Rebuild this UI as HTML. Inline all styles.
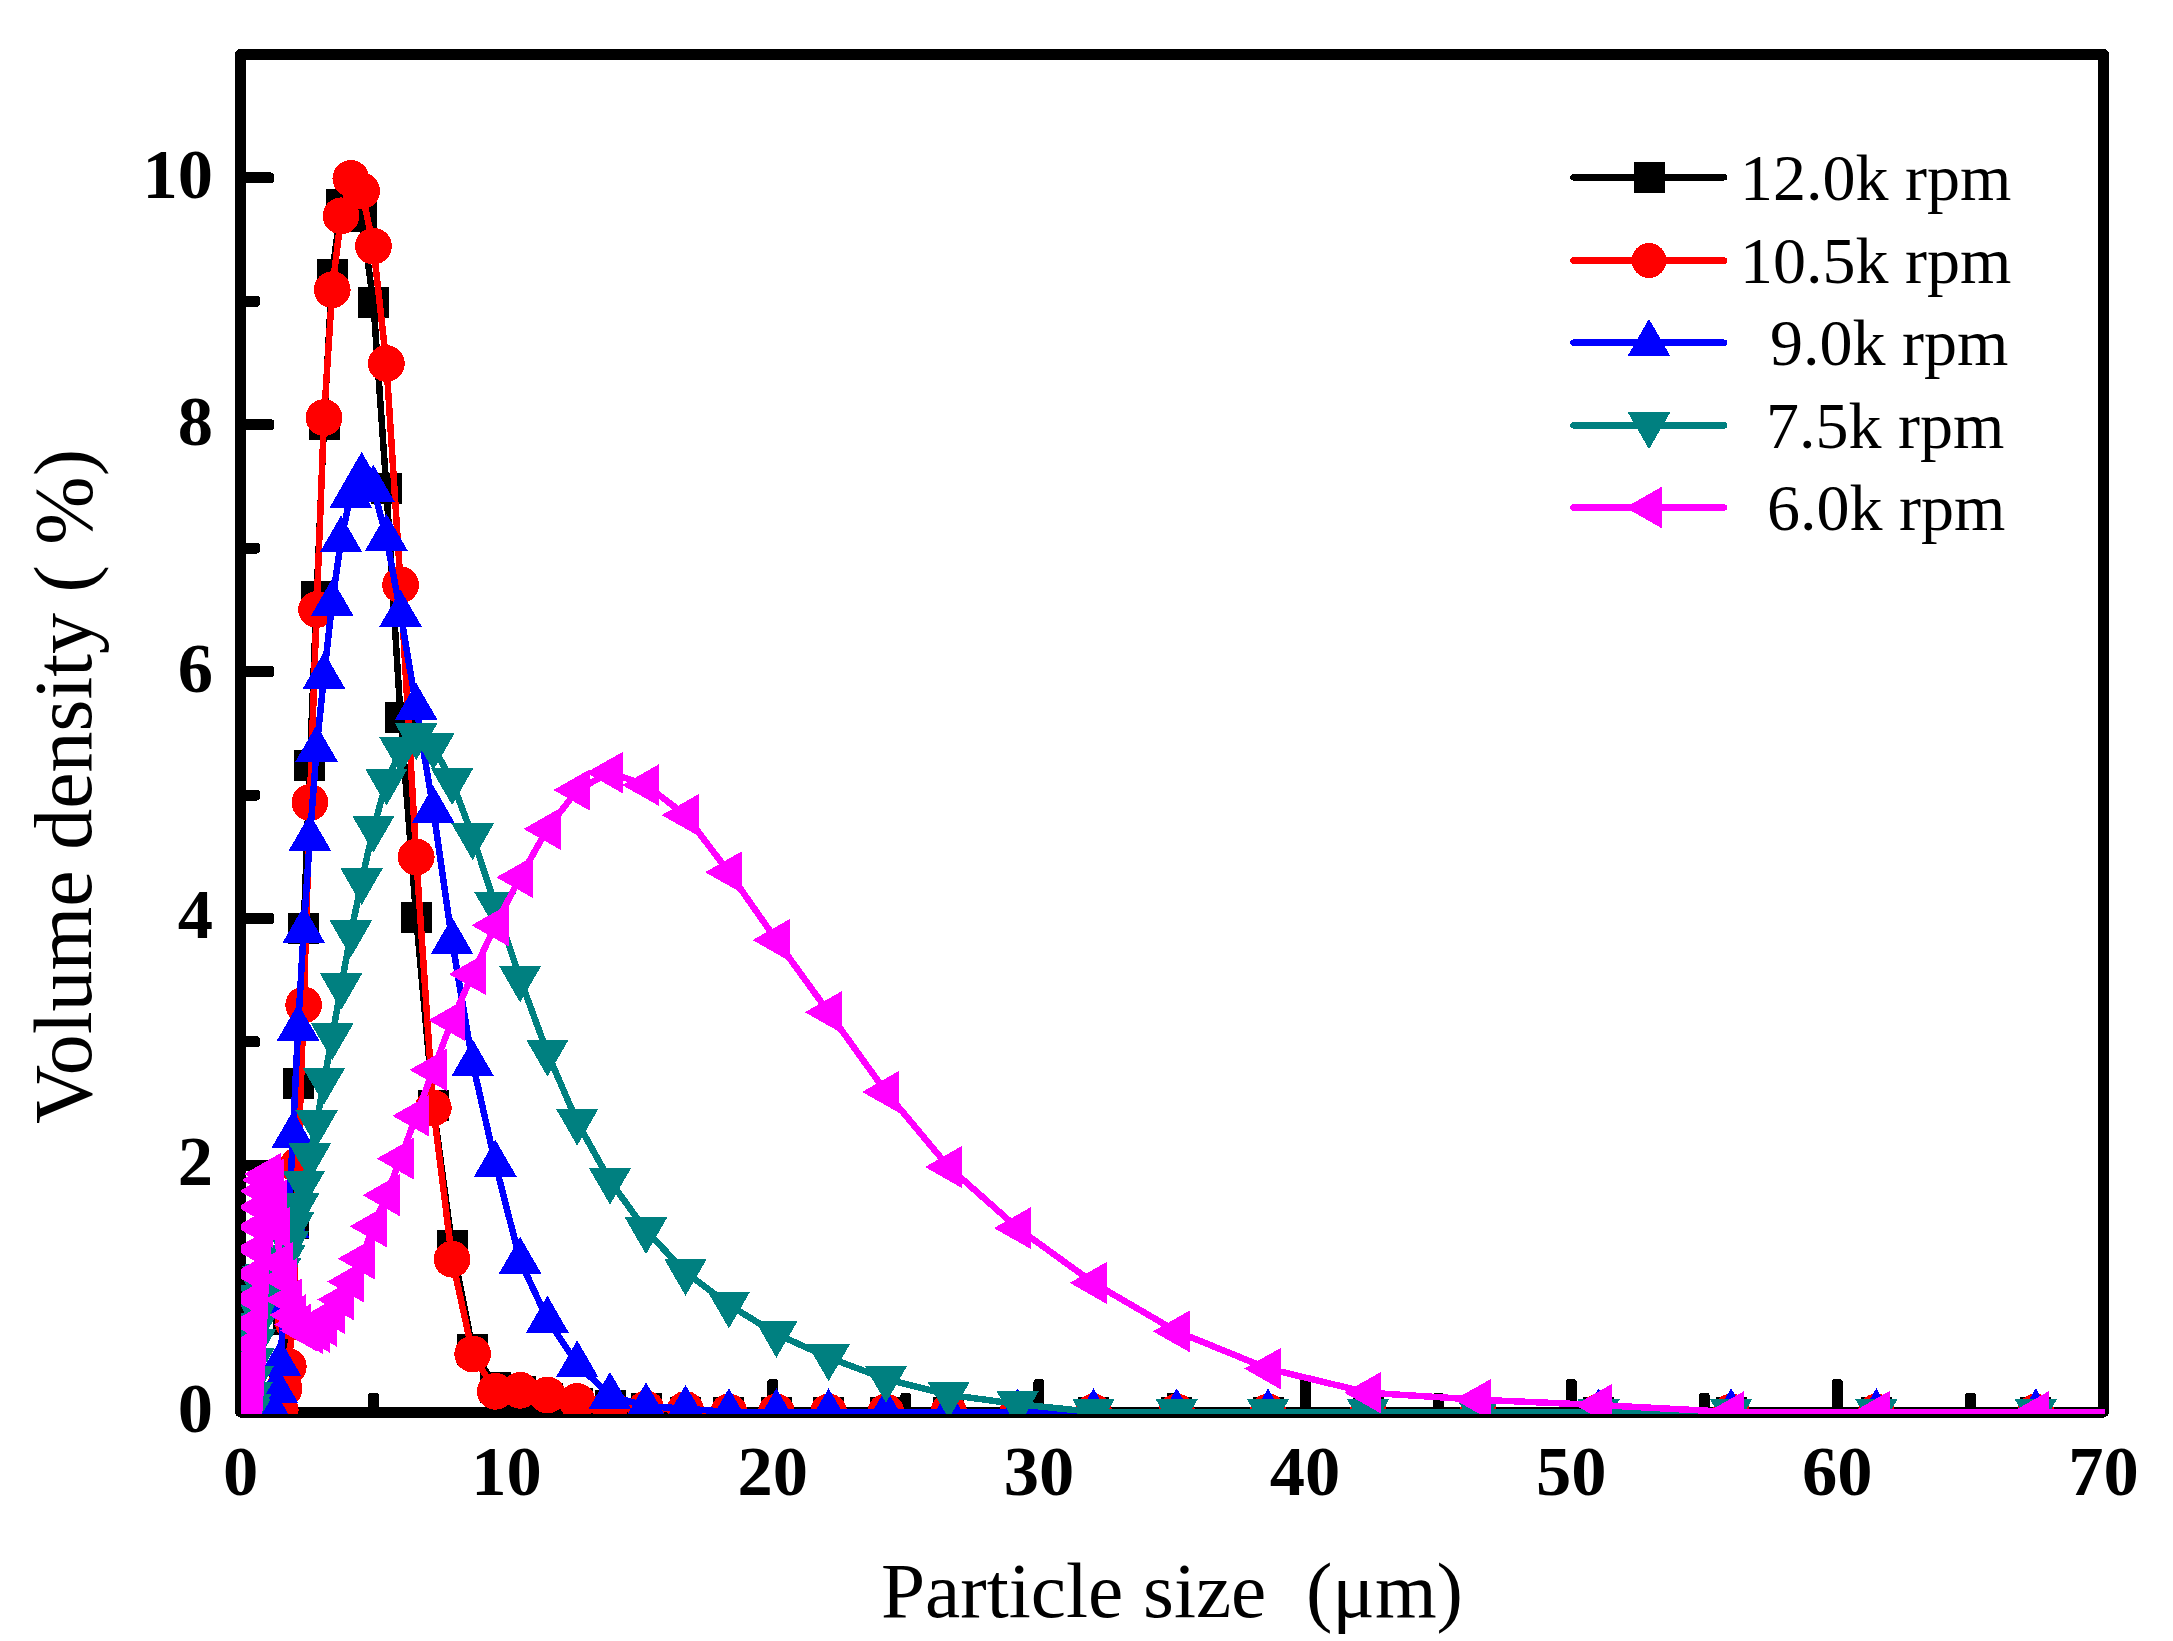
<!DOCTYPE html>
<html><head><meta charset="utf-8"><title>Particle size distribution</title>
<style>html,body{margin:0;padding:0;background:#fff}body{width:2173px;height:1641px;overflow:hidden}</style></head>
<body>
<svg width="2173" height="1641" viewBox="0 0 2173 1641" style="display:block">
<rect width="2173" height="1641" fill="#fff"/>
<defs><clipPath id="cp"><rect x="241" y="50" width="1864" height="1364"/></clipPath></defs>
<g shape-rendering="crispEdges">
<rect x="240.5" y="54.5" width="1863" height="1357.5" fill="none" stroke="#000" stroke-width="11" stroke-linejoin="round"/>
<rect x="240.0" y="1283.1" width="20.0" height="11.0" rx="3.5" ry="3.5" fill="#000"/>
<rect x="240.0" y="1159.7" width="34.2" height="11.0" rx="3.5" ry="3.5" fill="#000"/>
<rect x="240.0" y="1036.3" width="20.0" height="11.0" rx="3.5" ry="3.5" fill="#000"/>
<rect x="240.0" y="912.9" width="34.2" height="11.0" rx="3.5" ry="3.5" fill="#000"/>
<rect x="240.0" y="789.5" width="20.0" height="11.0" rx="3.5" ry="3.5" fill="#000"/>
<rect x="240.0" y="666.0" width="34.2" height="11.0" rx="3.5" ry="3.5" fill="#000"/>
<rect x="240.0" y="542.6" width="20.0" height="11.0" rx="3.5" ry="3.5" fill="#000"/>
<rect x="240.0" y="419.2" width="34.2" height="11.0" rx="3.5" ry="3.5" fill="#000"/>
<rect x="240.0" y="295.8" width="20.0" height="11.0" rx="3.5" ry="3.5" fill="#000"/>
<rect x="240.0" y="172.4" width="34.2" height="11.0" rx="3.5" ry="3.5" fill="#000"/>
<rect x="368.1" y="1392.7" width="11.0" height="19.3" rx="3.5" ry="3.5" fill="#000"/>
<rect x="501.1" y="1379.0" width="11.0" height="33.0" rx="3.5" ry="3.5" fill="#000"/>
<rect x="634.2" y="1392.7" width="11.0" height="19.3" rx="3.5" ry="3.5" fill="#000"/>
<rect x="767.3" y="1379.0" width="11.0" height="33.0" rx="3.5" ry="3.5" fill="#000"/>
<rect x="900.4" y="1392.7" width="11.0" height="19.3" rx="3.5" ry="3.5" fill="#000"/>
<rect x="1033.4" y="1379.0" width="11.0" height="33.0" rx="3.5" ry="3.5" fill="#000"/>
<rect x="1166.5" y="1392.7" width="11.0" height="19.3" rx="3.5" ry="3.5" fill="#000"/>
<rect x="1299.6" y="1379.0" width="11.0" height="33.0" rx="3.5" ry="3.5" fill="#000"/>
<rect x="1432.6" y="1392.7" width="11.0" height="19.3" rx="3.5" ry="3.5" fill="#000"/>
<rect x="1565.7" y="1379.0" width="11.0" height="33.0" rx="3.5" ry="3.5" fill="#000"/>
<rect x="1698.8" y="1392.7" width="11.0" height="19.3" rx="3.5" ry="3.5" fill="#000"/>
<rect x="1831.8" y="1379.0" width="11.0" height="33.0" rx="3.5" ry="3.5" fill="#000"/>
<rect x="1964.9" y="1392.7" width="11.0" height="19.3" rx="3.5" ry="3.5" fill="#000"/>
<g clip-path="url(#cp)">
<polyline points="2210.5,1412.0 2035.8,1412.0 1876.4,1412.0 1731.1,1412.0 1598.7,1412.0 1478.1,1412.0 1368.1,1412.0 1268.0,1412.0 1176.7,1412.0 1093.5,1412.0 1017.7,1412.0 948.7,1412.0 885.9,1412.0 828.6,1412.0 776.4,1412.0 728.9,1412.0 685.5,1412.0 646.0,1408.5 610.0,1405.8 577.2,1403.9 547.4,1398.4 520.1,1391.8 495.3,1387.3 472.7,1349.1 452.1,1245.5 433.3,1105.8 416.2,917.1 400.6,717.8 386.4,488.4 373.4,302.9 361.6,216.4 350.9,190.2 341.1,204.6 332.2,274.8 324.0,424.7 316.6,596.6 309.9,765.5 303.7,928.0 298.1,1083.0 293.0,1223.2 288.3,1319.4 284.1,1375.0 280.2,1397.2 276.7,1407.1 273.5,1412.0 270.6,1412.0 267.9,1412.0 265.5,1412.0 263.2,1412.0 261.2,1412.0 259.4,1412.0 257.7,1412.0 256.2,1412.0 254.8,1412.0 253.5,1412.0 252.4,1412.0 251.3,1412.0 250.4,1412.0 249.5,1412.0 248.7,1412.0 248.0,1412.0 247.3,1412.0 246.7,1412.0 246.1,1412.0 245.6,1412.0 245.2,1412.0 244.8,1412.0 244.4,1412.0 244.0,1412.0 243.7,1412.0" fill="none" stroke="#000" stroke-width="6.5" stroke-linejoin="round"/>
<rect x="2020.3" y="1396.5" width="31" height="31" fill="#000"/>
<rect x="1860.9" y="1396.5" width="31" height="31" fill="#000"/>
<rect x="1715.6" y="1396.5" width="31" height="31" fill="#000"/>
<rect x="1583.2" y="1396.5" width="31" height="31" fill="#000"/>
<rect x="1462.6" y="1396.5" width="31" height="31" fill="#000"/>
<rect x="1352.6" y="1396.5" width="31" height="31" fill="#000"/>
<rect x="1252.5" y="1396.5" width="31" height="31" fill="#000"/>
<rect x="1161.2" y="1396.5" width="31" height="31" fill="#000"/>
<rect x="1078.0" y="1396.5" width="31" height="31" fill="#000"/>
<rect x="1002.2" y="1396.5" width="31" height="31" fill="#000"/>
<rect x="933.2" y="1396.5" width="31" height="31" fill="#000"/>
<rect x="870.4" y="1396.5" width="31" height="31" fill="#000"/>
<rect x="813.1" y="1396.5" width="31" height="31" fill="#000"/>
<rect x="760.9" y="1396.5" width="31" height="31" fill="#000"/>
<rect x="713.4" y="1396.5" width="31" height="31" fill="#000"/>
<rect x="670.0" y="1396.5" width="31" height="31" fill="#000"/>
<rect x="630.5" y="1393.0" width="31" height="31" fill="#000"/>
<rect x="594.5" y="1390.3" width="31" height="31" fill="#000"/>
<rect x="561.7" y="1388.4" width="31" height="31" fill="#000"/>
<rect x="531.9" y="1382.9" width="31" height="31" fill="#000"/>
<rect x="504.6" y="1376.3" width="31" height="31" fill="#000"/>
<rect x="479.8" y="1371.8" width="31" height="31" fill="#000"/>
<rect x="457.2" y="1333.6" width="31" height="31" fill="#000"/>
<rect x="436.6" y="1230.0" width="31" height="31" fill="#000"/>
<rect x="417.8" y="1090.3" width="31" height="31" fill="#000"/>
<rect x="400.7" y="901.6" width="31" height="31" fill="#000"/>
<rect x="385.1" y="702.3" width="31" height="31" fill="#000"/>
<rect x="370.9" y="472.9" width="31" height="31" fill="#000"/>
<rect x="357.9" y="287.4" width="31" height="31" fill="#000"/>
<rect x="346.1" y="200.9" width="31" height="31" fill="#000"/>
<rect x="335.4" y="174.7" width="31" height="31" fill="#000"/>
<rect x="325.6" y="189.1" width="31" height="31" fill="#000"/>
<rect x="316.7" y="259.3" width="31" height="31" fill="#000"/>
<rect x="308.5" y="409.2" width="31" height="31" fill="#000"/>
<rect x="301.1" y="581.1" width="31" height="31" fill="#000"/>
<rect x="294.4" y="750.0" width="31" height="31" fill="#000"/>
<rect x="288.2" y="912.5" width="31" height="31" fill="#000"/>
<rect x="282.6" y="1067.5" width="31" height="31" fill="#000"/>
<rect x="277.5" y="1207.7" width="31" height="31" fill="#000"/>
<rect x="272.8" y="1303.9" width="31" height="31" fill="#000"/>
<rect x="268.6" y="1359.5" width="31" height="31" fill="#000"/>
<rect x="264.7" y="1381.7" width="31" height="31" fill="#000"/>
<rect x="261.2" y="1391.6" width="31" height="31" fill="#000"/>
<rect x="258.0" y="1396.5" width="31" height="31" fill="#000"/>
<rect x="255.1" y="1396.5" width="31" height="31" fill="#000"/>
<rect x="252.4" y="1396.5" width="31" height="31" fill="#000"/>
<rect x="250.0" y="1396.5" width="31" height="31" fill="#000"/>
<rect x="247.7" y="1396.5" width="31" height="31" fill="#000"/>
<rect x="245.7" y="1396.5" width="31" height="31" fill="#000"/>
<rect x="243.9" y="1396.5" width="31" height="31" fill="#000"/>
<rect x="242.2" y="1396.5" width="31" height="31" fill="#000"/>
<rect x="240.7" y="1396.5" width="31" height="31" fill="#000"/>
<rect x="239.3" y="1396.5" width="31" height="31" fill="#000"/>
<rect x="238.0" y="1396.5" width="31" height="31" fill="#000"/>
<rect x="236.9" y="1396.5" width="31" height="31" fill="#000"/>
<rect x="235.8" y="1396.5" width="31" height="31" fill="#000"/>
<rect x="234.9" y="1396.5" width="31" height="31" fill="#000"/>
<rect x="234.0" y="1396.5" width="31" height="31" fill="#000"/>
<rect x="233.2" y="1396.5" width="31" height="31" fill="#000"/>
<rect x="232.5" y="1396.5" width="31" height="31" fill="#000"/>
<rect x="231.8" y="1396.5" width="31" height="31" fill="#000"/>
<rect x="231.2" y="1396.5" width="31" height="31" fill="#000"/>
<rect x="230.6" y="1396.5" width="31" height="31" fill="#000"/>
<rect x="230.1" y="1396.5" width="31" height="31" fill="#000"/>
<rect x="229.7" y="1396.5" width="31" height="31" fill="#000"/>
<rect x="229.3" y="1396.5" width="31" height="31" fill="#000"/>
<rect x="228.9" y="1396.5" width="31" height="31" fill="#000"/>
<rect x="228.5" y="1396.5" width="31" height="31" fill="#000"/>
<rect x="228.2" y="1396.5" width="31" height="31" fill="#000"/>
<polyline points="2210.5,1412.0 2035.8,1412.0 1876.4,1412.0 1731.1,1412.0 1598.7,1412.0 1478.1,1412.0 1368.1,1412.0 1268.0,1412.0 1176.7,1412.0 1093.5,1412.0 1017.7,1412.0 948.7,1412.0 885.9,1412.0 828.6,1412.0 776.4,1412.0 728.9,1412.0 685.5,1409.5 646.0,1408.9 610.0,1407.1 577.2,1401.5 547.4,1395.0 520.1,1390.3 495.3,1391.3 472.7,1354.0 452.1,1259.2 433.3,1107.9 416.2,857.0 400.6,584.8 386.4,363.5 373.4,246.1 361.6,190.9 350.9,178.5 341.1,215.8 332.2,289.7 324.0,417.6 316.6,609.5 309.9,802.4 303.7,1005.0 298.1,1165.2 293.0,1321.9 288.3,1366.7 284.1,1388.6 280.2,1409.5 276.7,1412.0 273.5,1412.0 270.6,1412.0 267.9,1412.0 265.5,1412.0 263.2,1412.0 261.2,1412.0 259.4,1412.0 257.7,1412.0 256.2,1412.0 254.8,1412.0 253.5,1412.0 252.4,1412.0 251.3,1412.0 250.4,1412.0 249.5,1412.0 248.7,1412.0 248.0,1412.0 247.3,1412.0 246.7,1412.0 246.1,1412.0 245.6,1412.0 245.2,1412.0 244.8,1412.0 244.4,1412.0 244.0,1412.0 243.7,1412.0" fill="none" stroke="#f00" stroke-width="6.5" stroke-linejoin="round"/>
<circle cx="2035.8" cy="1412.0" r="18.4" fill="#f00"/>
<circle cx="1876.4" cy="1412.0" r="18.4" fill="#f00"/>
<circle cx="1731.1" cy="1412.0" r="18.4" fill="#f00"/>
<circle cx="1598.7" cy="1412.0" r="18.4" fill="#f00"/>
<circle cx="1478.1" cy="1412.0" r="18.4" fill="#f00"/>
<circle cx="1368.1" cy="1412.0" r="18.4" fill="#f00"/>
<circle cx="1268.0" cy="1412.0" r="18.4" fill="#f00"/>
<circle cx="1176.7" cy="1412.0" r="18.4" fill="#f00"/>
<circle cx="1093.5" cy="1412.0" r="18.4" fill="#f00"/>
<circle cx="1017.7" cy="1412.0" r="18.4" fill="#f00"/>
<circle cx="948.7" cy="1412.0" r="18.4" fill="#f00"/>
<circle cx="885.9" cy="1412.0" r="18.4" fill="#f00"/>
<circle cx="828.6" cy="1412.0" r="18.4" fill="#f00"/>
<circle cx="776.4" cy="1412.0" r="18.4" fill="#f00"/>
<circle cx="728.9" cy="1412.0" r="18.4" fill="#f00"/>
<circle cx="685.5" cy="1409.5" r="18.4" fill="#f00"/>
<circle cx="646.0" cy="1408.9" r="18.4" fill="#f00"/>
<circle cx="610.0" cy="1407.1" r="18.4" fill="#f00"/>
<circle cx="577.2" cy="1401.5" r="18.4" fill="#f00"/>
<circle cx="547.4" cy="1395.0" r="18.4" fill="#f00"/>
<circle cx="520.1" cy="1390.3" r="18.4" fill="#f00"/>
<circle cx="495.3" cy="1391.3" r="18.4" fill="#f00"/>
<circle cx="472.7" cy="1354.0" r="18.4" fill="#f00"/>
<circle cx="452.1" cy="1259.2" r="18.4" fill="#f00"/>
<circle cx="433.3" cy="1107.9" r="18.4" fill="#f00"/>
<circle cx="416.2" cy="857.0" r="18.4" fill="#f00"/>
<circle cx="400.6" cy="584.8" r="18.4" fill="#f00"/>
<circle cx="386.4" cy="363.5" r="18.4" fill="#f00"/>
<circle cx="373.4" cy="246.1" r="18.4" fill="#f00"/>
<circle cx="361.6" cy="190.9" r="18.4" fill="#f00"/>
<circle cx="350.9" cy="178.5" r="18.4" fill="#f00"/>
<circle cx="341.1" cy="215.8" r="18.4" fill="#f00"/>
<circle cx="332.2" cy="289.7" r="18.4" fill="#f00"/>
<circle cx="324.0" cy="417.6" r="18.4" fill="#f00"/>
<circle cx="316.6" cy="609.5" r="18.4" fill="#f00"/>
<circle cx="309.9" cy="802.4" r="18.4" fill="#f00"/>
<circle cx="303.7" cy="1005.0" r="18.4" fill="#f00"/>
<circle cx="298.1" cy="1165.2" r="18.4" fill="#f00"/>
<circle cx="293.0" cy="1321.9" r="18.4" fill="#f00"/>
<circle cx="288.3" cy="1366.7" r="18.4" fill="#f00"/>
<circle cx="284.1" cy="1388.6" r="18.4" fill="#f00"/>
<circle cx="280.2" cy="1409.5" r="18.4" fill="#f00"/>
<circle cx="276.7" cy="1412.0" r="18.4" fill="#f00"/>
<circle cx="273.5" cy="1412.0" r="18.4" fill="#f00"/>
<circle cx="270.6" cy="1412.0" r="18.4" fill="#f00"/>
<circle cx="267.9" cy="1412.0" r="18.4" fill="#f00"/>
<circle cx="265.5" cy="1412.0" r="18.4" fill="#f00"/>
<circle cx="263.2" cy="1412.0" r="18.4" fill="#f00"/>
<circle cx="261.2" cy="1412.0" r="18.4" fill="#f00"/>
<circle cx="259.4" cy="1412.0" r="18.4" fill="#f00"/>
<circle cx="257.7" cy="1412.0" r="18.4" fill="#f00"/>
<circle cx="256.2" cy="1412.0" r="18.4" fill="#f00"/>
<circle cx="254.8" cy="1412.0" r="18.4" fill="#f00"/>
<circle cx="253.5" cy="1412.0" r="18.4" fill="#f00"/>
<circle cx="252.4" cy="1412.0" r="18.4" fill="#f00"/>
<circle cx="251.3" cy="1412.0" r="18.4" fill="#f00"/>
<circle cx="250.4" cy="1412.0" r="18.4" fill="#f00"/>
<circle cx="249.5" cy="1412.0" r="18.4" fill="#f00"/>
<circle cx="248.7" cy="1412.0" r="18.4" fill="#f00"/>
<circle cx="248.0" cy="1412.0" r="18.4" fill="#f00"/>
<circle cx="247.3" cy="1412.0" r="18.4" fill="#f00"/>
<circle cx="246.7" cy="1412.0" r="18.4" fill="#f00"/>
<circle cx="246.1" cy="1412.0" r="18.4" fill="#f00"/>
<circle cx="245.6" cy="1412.0" r="18.4" fill="#f00"/>
<circle cx="245.2" cy="1412.0" r="18.4" fill="#f00"/>
<circle cx="244.8" cy="1412.0" r="18.4" fill="#f00"/>
<circle cx="244.4" cy="1412.0" r="18.4" fill="#f00"/>
<circle cx="244.0" cy="1412.0" r="18.4" fill="#f00"/>
<circle cx="243.7" cy="1412.0" r="18.4" fill="#f00"/>
<polyline points="2210.5,1412.0 2035.8,1412.0 1876.4,1412.0 1731.1,1412.0 1598.7,1412.0 1478.1,1412.0 1368.1,1412.0 1268.0,1412.0 1176.7,1412.0 1093.5,1412.0 1017.7,1412.0 948.7,1412.0 885.9,1412.0 828.6,1412.0 776.4,1412.0 728.9,1412.0 685.5,1408.6 646.0,1406.2 610.0,1395.7 577.2,1364.1 547.4,1319.3 520.1,1260.5 495.3,1163.4 472.7,1063.1 452.1,940.9 433.3,809.5 416.2,706.7 400.6,613.6 386.4,537.4 373.4,488.6 361.6,475.7 350.9,494.5 341.1,539.2 332.2,602.6 324.0,675.6 316.6,748.6 309.9,837.6 303.7,929.8 298.1,1027.5 293.0,1134.4 288.3,1224.9 284.1,1306.2 280.2,1363.2 276.7,1389.3 273.5,1412.0 270.6,1412.0 267.9,1412.0 265.5,1412.0 263.2,1412.0 261.2,1412.0 259.4,1412.0 257.7,1412.0 256.2,1412.0 254.8,1412.0 253.5,1412.0 252.4,1412.0 251.3,1412.0 250.4,1412.0 249.5,1412.0 248.7,1412.0 248.0,1412.0 247.3,1412.0 246.7,1412.0 246.1,1412.0 245.6,1412.0 245.2,1412.0 244.8,1412.0 244.4,1412.0 244.0,1412.0 243.7,1412.0" fill="none" stroke="#00f" stroke-width="6.5" stroke-linejoin="round"/>
<polygon points="2035.8,1388.2 2057.1,1425.2 2014.5,1425.2" fill="#00f"/>
<polygon points="1876.4,1388.2 1897.7,1425.2 1855.1,1425.2" fill="#00f"/>
<polygon points="1731.1,1388.2 1752.4,1425.2 1709.8,1425.2" fill="#00f"/>
<polygon points="1598.7,1388.2 1620.0,1425.2 1577.4,1425.2" fill="#00f"/>
<polygon points="1478.1,1388.2 1499.4,1425.2 1456.8,1425.2" fill="#00f"/>
<polygon points="1368.1,1388.2 1389.4,1425.2 1346.8,1425.2" fill="#00f"/>
<polygon points="1268.0,1388.2 1289.3,1425.2 1246.7,1425.2" fill="#00f"/>
<polygon points="1176.7,1388.2 1198.0,1425.2 1155.4,1425.2" fill="#00f"/>
<polygon points="1093.5,1388.2 1114.8,1425.2 1072.2,1425.2" fill="#00f"/>
<polygon points="1017.7,1388.2 1039.0,1425.2 996.4,1425.2" fill="#00f"/>
<polygon points="948.7,1388.2 970.0,1425.2 927.4,1425.2" fill="#00f"/>
<polygon points="885.9,1388.2 907.2,1425.2 864.6,1425.2" fill="#00f"/>
<polygon points="828.6,1388.2 849.9,1425.2 807.3,1425.2" fill="#00f"/>
<polygon points="776.4,1388.2 797.7,1425.2 755.1,1425.2" fill="#00f"/>
<polygon points="728.9,1388.2 750.2,1425.2 707.6,1425.2" fill="#00f"/>
<polygon points="685.5,1384.8 706.8,1421.8 664.2,1421.8" fill="#00f"/>
<polygon points="646.0,1382.4 667.3,1419.4 624.7,1419.4" fill="#00f"/>
<polygon points="610.0,1371.9 631.3,1408.9 588.7,1408.9" fill="#00f"/>
<polygon points="577.2,1340.3 598.5,1377.3 555.9,1377.3" fill="#00f"/>
<polygon points="547.4,1295.5 568.7,1332.5 526.1,1332.5" fill="#00f"/>
<polygon points="520.1,1236.7 541.4,1273.7 498.8,1273.7" fill="#00f"/>
<polygon points="495.3,1139.6 516.6,1176.6 474.0,1176.6" fill="#00f"/>
<polygon points="472.7,1039.3 494.0,1076.3 451.4,1076.3" fill="#00f"/>
<polygon points="452.1,917.1 473.4,954.1 430.8,954.1" fill="#00f"/>
<polygon points="433.3,785.7 454.6,822.7 412.0,822.7" fill="#00f"/>
<polygon points="416.2,682.9 437.5,719.9 394.9,719.9" fill="#00f"/>
<polygon points="400.6,589.8 421.9,626.8 379.3,626.8" fill="#00f"/>
<polygon points="386.4,513.6 407.7,550.6 365.1,550.6" fill="#00f"/>
<polygon points="373.4,464.8 394.7,501.8 352.1,501.8" fill="#00f"/>
<polygon points="361.6,451.9 382.9,488.9 340.3,488.9" fill="#00f"/>
<polygon points="350.9,470.7 372.2,507.7 329.6,507.7" fill="#00f"/>
<polygon points="341.1,515.4 362.4,552.4 319.8,552.4" fill="#00f"/>
<polygon points="332.2,578.8 353.5,615.8 310.9,615.8" fill="#00f"/>
<polygon points="324.0,651.8 345.3,688.8 302.7,688.8" fill="#00f"/>
<polygon points="316.6,724.8 337.9,761.8 295.3,761.8" fill="#00f"/>
<polygon points="309.9,813.8 331.2,850.8 288.6,850.8" fill="#00f"/>
<polygon points="303.7,906.0 325.0,943.0 282.4,943.0" fill="#00f"/>
<polygon points="298.1,1003.7 319.4,1040.7 276.8,1040.7" fill="#00f"/>
<polygon points="293.0,1110.6 314.3,1147.6 271.7,1147.6" fill="#00f"/>
<polygon points="288.3,1201.1 309.6,1238.1 267.0,1238.1" fill="#00f"/>
<polygon points="284.1,1282.4 305.4,1319.4 262.8,1319.4" fill="#00f"/>
<polygon points="280.2,1339.4 301.5,1376.4 258.9,1376.4" fill="#00f"/>
<polygon points="276.7,1365.5 298.0,1402.5 255.4,1402.5" fill="#00f"/>
<polygon points="273.5,1388.2 294.8,1425.2 252.2,1425.2" fill="#00f"/>
<polygon points="270.6,1388.2 291.9,1425.2 249.3,1425.2" fill="#00f"/>
<polygon points="267.9,1388.2 289.2,1425.2 246.6,1425.2" fill="#00f"/>
<polygon points="265.5,1388.2 286.8,1425.2 244.2,1425.2" fill="#00f"/>
<polygon points="263.2,1388.2 284.5,1425.2 241.9,1425.2" fill="#00f"/>
<polygon points="261.2,1388.2 282.5,1425.2 239.9,1425.2" fill="#00f"/>
<polygon points="259.4,1388.2 280.7,1425.2 238.1,1425.2" fill="#00f"/>
<polygon points="257.7,1388.2 279.0,1425.2 236.4,1425.2" fill="#00f"/>
<polygon points="256.2,1388.2 277.5,1425.2 234.9,1425.2" fill="#00f"/>
<polygon points="254.8,1388.2 276.1,1425.2 233.5,1425.2" fill="#00f"/>
<polygon points="253.5,1388.2 274.8,1425.2 232.2,1425.2" fill="#00f"/>
<polygon points="252.4,1388.2 273.7,1425.2 231.1,1425.2" fill="#00f"/>
<polygon points="251.3,1388.2 272.6,1425.2 230.0,1425.2" fill="#00f"/>
<polygon points="250.4,1388.2 271.7,1425.2 229.1,1425.2" fill="#00f"/>
<polygon points="249.5,1388.2 270.8,1425.2 228.2,1425.2" fill="#00f"/>
<polygon points="248.7,1388.2 270.0,1425.2 227.4,1425.2" fill="#00f"/>
<polygon points="248.0,1388.2 269.3,1425.2 226.7,1425.2" fill="#00f"/>
<polygon points="247.3,1388.2 268.6,1425.2 226.0,1425.2" fill="#00f"/>
<polygon points="246.7,1388.2 268.0,1425.2 225.4,1425.2" fill="#00f"/>
<polygon points="246.1,1388.2 267.4,1425.2 224.8,1425.2" fill="#00f"/>
<polygon points="245.6,1388.2 266.9,1425.2 224.3,1425.2" fill="#00f"/>
<polygon points="245.2,1388.2 266.5,1425.2 223.9,1425.2" fill="#00f"/>
<polygon points="244.8,1388.2 266.1,1425.2 223.5,1425.2" fill="#00f"/>
<polygon points="244.4,1388.2 265.7,1425.2 223.1,1425.2" fill="#00f"/>
<polygon points="244.0,1388.2 265.3,1425.2 222.7,1425.2" fill="#00f"/>
<polygon points="243.7,1388.2 265.0,1425.2 222.4,1425.2" fill="#00f"/>
<polyline points="2210.5,1412.0 2035.8,1412.0 1876.4,1412.0 1731.1,1412.0 1598.7,1412.0 1478.1,1412.0 1368.1,1412.0 1268.0,1412.0 1176.7,1412.0 1093.5,1412.0 1017.7,1404.1 948.7,1394.8 885.9,1379.0 828.6,1357.5 776.4,1334.0 728.9,1304.7 685.5,1272.1 646.0,1230.5 610.0,1180.9 577.2,1121.9 547.4,1052.8 520.1,978.7 495.3,904.9 472.7,836.6 452.1,781.4 433.3,746.5 416.2,736.5 400.6,750.4 386.4,781.9 373.4,828.8 361.6,881.3 350.9,933.5 341.1,986.4 332.2,1036.6 324.0,1080.9 316.6,1123.5 309.9,1156.5 303.7,1184.2 298.1,1206.6 293.0,1225.4 288.3,1243.8 284.1,1258.6 280.2,1271.0 276.7,1279.6 273.5,1283.3 270.6,1282.1 267.9,1279.6 265.5,1277.1 263.2,1279.6 261.2,1287.0 259.4,1298.1 257.7,1311.7 256.2,1326.5 254.8,1342.6 253.5,1361.1 252.4,1379.6 251.3,1395.6 250.4,1406.7 249.5,1412.0 248.7,1412.0 248.0,1412.0 247.3,1412.0 246.7,1412.0 246.1,1412.0 245.6,1412.0 245.2,1412.0 244.8,1412.0 244.4,1412.0 244.0,1412.0 243.7,1412.0" fill="none" stroke="#008080" stroke-width="6.5" stroke-linejoin="round"/>
<polygon points="2035.8,1435.8 2057.1,1398.8 2014.5,1398.8" fill="#008080"/>
<polygon points="1876.4,1435.8 1897.7,1398.8 1855.1,1398.8" fill="#008080"/>
<polygon points="1731.1,1435.8 1752.4,1398.8 1709.8,1398.8" fill="#008080"/>
<polygon points="1598.7,1435.8 1620.0,1398.8 1577.4,1398.8" fill="#008080"/>
<polygon points="1478.1,1435.8 1499.4,1398.8 1456.8,1398.8" fill="#008080"/>
<polygon points="1368.1,1435.8 1389.4,1398.8 1346.8,1398.8" fill="#008080"/>
<polygon points="1268.0,1435.8 1289.3,1398.8 1246.7,1398.8" fill="#008080"/>
<polygon points="1176.7,1435.8 1198.0,1398.8 1155.4,1398.8" fill="#008080"/>
<polygon points="1093.5,1435.8 1114.8,1398.8 1072.2,1398.8" fill="#008080"/>
<polygon points="1017.7,1427.9 1039.0,1390.9 996.4,1390.9" fill="#008080"/>
<polygon points="948.7,1418.6 970.0,1381.6 927.4,1381.6" fill="#008080"/>
<polygon points="885.9,1402.8 907.2,1365.8 864.6,1365.8" fill="#008080"/>
<polygon points="828.6,1381.3 849.9,1344.3 807.3,1344.3" fill="#008080"/>
<polygon points="776.4,1357.8 797.7,1320.8 755.1,1320.8" fill="#008080"/>
<polygon points="728.9,1328.5 750.2,1291.5 707.6,1291.5" fill="#008080"/>
<polygon points="685.5,1295.9 706.8,1258.9 664.2,1258.9" fill="#008080"/>
<polygon points="646.0,1254.3 667.3,1217.3 624.7,1217.3" fill="#008080"/>
<polygon points="610.0,1204.7 631.3,1167.7 588.7,1167.7" fill="#008080"/>
<polygon points="577.2,1145.7 598.5,1108.7 555.9,1108.7" fill="#008080"/>
<polygon points="547.4,1076.6 568.7,1039.6 526.1,1039.6" fill="#008080"/>
<polygon points="520.1,1002.5 541.4,965.5 498.8,965.5" fill="#008080"/>
<polygon points="495.3,928.7 516.6,891.7 474.0,891.7" fill="#008080"/>
<polygon points="472.7,860.4 494.0,823.4 451.4,823.4" fill="#008080"/>
<polygon points="452.1,805.2 473.4,768.2 430.8,768.2" fill="#008080"/>
<polygon points="433.3,770.3 454.6,733.3 412.0,733.3" fill="#008080"/>
<polygon points="416.2,760.3 437.5,723.3 394.9,723.3" fill="#008080"/>
<polygon points="400.6,774.2 421.9,737.2 379.3,737.2" fill="#008080"/>
<polygon points="386.4,805.7 407.7,768.7 365.1,768.7" fill="#008080"/>
<polygon points="373.4,852.6 394.7,815.6 352.1,815.6" fill="#008080"/>
<polygon points="361.6,905.1 382.9,868.1 340.3,868.1" fill="#008080"/>
<polygon points="350.9,957.3 372.2,920.3 329.6,920.3" fill="#008080"/>
<polygon points="341.1,1010.2 362.4,973.2 319.8,973.2" fill="#008080"/>
<polygon points="332.2,1060.4 353.5,1023.4 310.9,1023.4" fill="#008080"/>
<polygon points="324.0,1104.7 345.3,1067.7 302.7,1067.7" fill="#008080"/>
<polygon points="316.6,1147.3 337.9,1110.3 295.3,1110.3" fill="#008080"/>
<polygon points="309.9,1180.3 331.2,1143.3 288.6,1143.3" fill="#008080"/>
<polygon points="303.7,1208.0 325.0,1171.0 282.4,1171.0" fill="#008080"/>
<polygon points="298.1,1230.4 319.4,1193.4 276.8,1193.4" fill="#008080"/>
<polygon points="293.0,1249.2 314.3,1212.2 271.7,1212.2" fill="#008080"/>
<polygon points="288.3,1267.6 309.6,1230.6 267.0,1230.6" fill="#008080"/>
<polygon points="284.1,1282.4 305.4,1245.4 262.8,1245.4" fill="#008080"/>
<polygon points="280.2,1294.8 301.5,1257.8 258.9,1257.8" fill="#008080"/>
<polygon points="276.7,1303.4 298.0,1266.4 255.4,1266.4" fill="#008080"/>
<polygon points="273.5,1307.1 294.8,1270.1 252.2,1270.1" fill="#008080"/>
<polygon points="270.6,1305.9 291.9,1268.9 249.3,1268.9" fill="#008080"/>
<polygon points="267.9,1303.4 289.2,1266.4 246.6,1266.4" fill="#008080"/>
<polygon points="265.5,1300.9 286.8,1263.9 244.2,1263.9" fill="#008080"/>
<polygon points="263.2,1303.4 284.5,1266.4 241.9,1266.4" fill="#008080"/>
<polygon points="261.2,1310.8 282.5,1273.8 239.9,1273.8" fill="#008080"/>
<polygon points="259.4,1321.9 280.7,1284.9 238.1,1284.9" fill="#008080"/>
<polygon points="257.7,1335.5 279.0,1298.5 236.4,1298.5" fill="#008080"/>
<polygon points="256.2,1350.3 277.5,1313.3 234.9,1313.3" fill="#008080"/>
<polygon points="254.8,1366.4 276.1,1329.4 233.5,1329.4" fill="#008080"/>
<polygon points="253.5,1384.9 274.8,1347.9 232.2,1347.9" fill="#008080"/>
<polygon points="252.4,1403.4 273.7,1366.4 231.1,1366.4" fill="#008080"/>
<polygon points="251.3,1419.4 272.6,1382.4 230.0,1382.4" fill="#008080"/>
<polygon points="250.4,1430.5 271.7,1393.5 229.1,1393.5" fill="#008080"/>
<polygon points="249.5,1435.8 270.8,1398.8 228.2,1398.8" fill="#008080"/>
<polygon points="248.7,1435.8 270.0,1398.8 227.4,1398.8" fill="#008080"/>
<polygon points="248.0,1435.8 269.3,1398.8 226.7,1398.8" fill="#008080"/>
<polygon points="247.3,1435.8 268.6,1398.8 226.0,1398.8" fill="#008080"/>
<polygon points="246.7,1435.8 268.0,1398.8 225.4,1398.8" fill="#008080"/>
<polygon points="246.1,1435.8 267.4,1398.8 224.8,1398.8" fill="#008080"/>
<polygon points="245.6,1435.8 266.9,1398.8 224.3,1398.8" fill="#008080"/>
<polygon points="245.2,1435.8 266.5,1398.8 223.9,1398.8" fill="#008080"/>
<polygon points="244.8,1435.8 266.1,1398.8 223.5,1398.8" fill="#008080"/>
<polygon points="244.4,1435.8 265.7,1398.8 223.1,1398.8" fill="#008080"/>
<polygon points="244.0,1435.8 265.3,1398.8 222.7,1398.8" fill="#008080"/>
<polygon points="243.7,1435.8 265.0,1398.8 222.4,1398.8" fill="#008080"/>
<polyline points="2210.5,1412.0 2035.8,1412.0 1876.4,1412.0 1731.1,1412.0 1598.7,1405.0 1478.1,1399.7 1368.1,1392.7 1268.0,1368.6 1176.7,1331.4 1093.5,1282.9 1017.7,1228.1 948.7,1167.0 885.9,1091.9 828.6,1012.2 776.4,940.1 728.9,872.2 685.5,815.1 646.0,785.1 610.0,772.6 577.2,790.0 547.4,828.9 520.1,877.3 495.3,925.3 472.7,974.1 452.1,1020.2 433.3,1069.9 416.2,1115.8 400.6,1158.6 386.4,1195.2 373.4,1226.3 361.6,1258.6 350.9,1281.6 341.1,1299.6 332.2,1313.3 324.0,1326.0 316.6,1331.8 309.9,1333.0 303.7,1330.5 298.1,1324.4 293.0,1315.1 288.3,1299.7 284.1,1279.0 280.2,1262.8 276.7,1228.0 273.5,1200.7 270.6,1179.6 267.9,1173.9 265.5,1180.0 263.2,1191.1 261.2,1207.1 259.4,1226.9 257.7,1249.1 256.2,1273.8 254.8,1298.5 253.5,1323.1 252.4,1344.1 251.3,1360.2 250.4,1375.0 249.5,1389.8 248.7,1402.1 248.0,1409.5 247.3,1412.0 246.7,1412.0 246.1,1412.0 245.6,1412.0 245.2,1412.0 244.8,1412.0 244.4,1412.0 244.0,1412.0 243.7,1412.0" fill="none" stroke="#f0f" stroke-width="6.5" stroke-linejoin="round"/>
<polygon points="2012.0,1412.0 2049.0,1391.0 2049.0,1433.0" fill="#f0f"/>
<polygon points="1852.6,1412.0 1889.6,1391.0 1889.6,1433.0" fill="#f0f"/>
<polygon points="1707.3,1412.0 1744.3,1391.0 1744.3,1433.0" fill="#f0f"/>
<polygon points="1574.9,1405.0 1611.9,1384.0 1611.9,1426.0" fill="#f0f"/>
<polygon points="1454.3,1399.7 1491.3,1378.7 1491.3,1420.7" fill="#f0f"/>
<polygon points="1344.3,1392.7 1381.3,1371.7 1381.3,1413.7" fill="#f0f"/>
<polygon points="1244.2,1368.6 1281.2,1347.6 1281.2,1389.6" fill="#f0f"/>
<polygon points="1152.9,1331.4 1189.9,1310.4 1189.9,1352.4" fill="#f0f"/>
<polygon points="1069.7,1282.9 1106.7,1261.9 1106.7,1303.9" fill="#f0f"/>
<polygon points="993.9,1228.1 1030.9,1207.1 1030.9,1249.1" fill="#f0f"/>
<polygon points="924.9,1167.0 961.9,1146.0 961.9,1188.0" fill="#f0f"/>
<polygon points="862.1,1091.9 899.1,1070.9 899.1,1112.9" fill="#f0f"/>
<polygon points="804.8,1012.2 841.8,991.2 841.8,1033.2" fill="#f0f"/>
<polygon points="752.6,940.1 789.6,919.1 789.6,961.1" fill="#f0f"/>
<polygon points="705.1,872.2 742.1,851.2 742.1,893.2" fill="#f0f"/>
<polygon points="661.7,815.1 698.7,794.1 698.7,836.1" fill="#f0f"/>
<polygon points="622.2,785.1 659.2,764.1 659.2,806.1" fill="#f0f"/>
<polygon points="586.2,772.6 623.2,751.6 623.2,793.6" fill="#f0f"/>
<polygon points="553.4,790.0 590.4,769.0 590.4,811.0" fill="#f0f"/>
<polygon points="523.6,828.9 560.6,807.9 560.6,849.9" fill="#f0f"/>
<polygon points="496.3,877.3 533.3,856.3 533.3,898.3" fill="#f0f"/>
<polygon points="471.5,925.3 508.5,904.3 508.5,946.3" fill="#f0f"/>
<polygon points="448.9,974.1 485.9,953.1 485.9,995.1" fill="#f0f"/>
<polygon points="428.3,1020.2 465.3,999.2 465.3,1041.2" fill="#f0f"/>
<polygon points="409.5,1069.9 446.5,1048.9 446.5,1090.9" fill="#f0f"/>
<polygon points="392.4,1115.8 429.4,1094.8 429.4,1136.8" fill="#f0f"/>
<polygon points="376.8,1158.6 413.8,1137.6 413.8,1179.6" fill="#f0f"/>
<polygon points="362.6,1195.2 399.6,1174.2 399.6,1216.2" fill="#f0f"/>
<polygon points="349.6,1226.3 386.6,1205.3 386.6,1247.3" fill="#f0f"/>
<polygon points="337.8,1258.6 374.8,1237.6 374.8,1279.6" fill="#f0f"/>
<polygon points="327.1,1281.6 364.1,1260.6 364.1,1302.6" fill="#f0f"/>
<polygon points="317.3,1299.6 354.3,1278.6 354.3,1320.6" fill="#f0f"/>
<polygon points="308.4,1313.3 345.4,1292.3 345.4,1334.3" fill="#f0f"/>
<polygon points="300.2,1326.0 337.2,1305.0 337.2,1347.0" fill="#f0f"/>
<polygon points="292.8,1331.8 329.8,1310.8 329.8,1352.8" fill="#f0f"/>
<polygon points="286.1,1333.0 323.1,1312.0 323.1,1354.0" fill="#f0f"/>
<polygon points="279.9,1330.5 316.9,1309.5 316.9,1351.5" fill="#f0f"/>
<polygon points="274.3,1324.4 311.3,1303.4 311.3,1345.4" fill="#f0f"/>
<polygon points="269.2,1315.1 306.2,1294.1 306.2,1336.1" fill="#f0f"/>
<polygon points="264.5,1299.7 301.5,1278.7 301.5,1320.7" fill="#f0f"/>
<polygon points="260.3,1279.0 297.3,1258.0 297.3,1300.0" fill="#f0f"/>
<polygon points="256.4,1262.8 293.4,1241.8 293.4,1283.8" fill="#f0f"/>
<polygon points="252.9,1228.0 289.9,1207.0 289.9,1249.0" fill="#f0f"/>
<polygon points="249.7,1200.7 286.7,1179.7 286.7,1221.7" fill="#f0f"/>
<polygon points="246.8,1179.6 283.8,1158.6 283.8,1200.6" fill="#f0f"/>
<polygon points="244.1,1173.9 281.1,1152.9 281.1,1194.9" fill="#f0f"/>
<polygon points="241.7,1180.0 278.7,1159.0 278.7,1201.0" fill="#f0f"/>
<polygon points="239.4,1191.1 276.4,1170.1 276.4,1212.1" fill="#f0f"/>
<polygon points="237.4,1207.1 274.4,1186.1 274.4,1228.1" fill="#f0f"/>
<polygon points="235.6,1226.9 272.6,1205.9 272.6,1247.9" fill="#f0f"/>
<polygon points="233.9,1249.1 270.9,1228.1 270.9,1270.1" fill="#f0f"/>
<polygon points="232.4,1273.8 269.4,1252.8 269.4,1294.8" fill="#f0f"/>
<polygon points="231.0,1298.5 268.0,1277.5 268.0,1319.5" fill="#f0f"/>
<polygon points="229.7,1323.1 266.7,1302.1 266.7,1344.1" fill="#f0f"/>
<polygon points="228.6,1344.1 265.6,1323.1 265.6,1365.1" fill="#f0f"/>
<polygon points="227.5,1360.2 264.5,1339.2 264.5,1381.2" fill="#f0f"/>
<polygon points="226.6,1375.0 263.6,1354.0 263.6,1396.0" fill="#f0f"/>
<polygon points="225.7,1389.8 262.7,1368.8 262.7,1410.8" fill="#f0f"/>
<polygon points="224.9,1402.1 261.9,1381.1 261.9,1423.1" fill="#f0f"/>
<polygon points="224.2,1409.5 261.2,1388.5 261.2,1430.5" fill="#f0f"/>
<polygon points="223.5,1412.0 260.5,1391.0 260.5,1433.0" fill="#f0f"/>
<polygon points="222.9,1412.0 259.9,1391.0 259.9,1433.0" fill="#f0f"/>
<polygon points="222.3,1412.0 259.3,1391.0 259.3,1433.0" fill="#f0f"/>
<polygon points="221.8,1412.0 258.8,1391.0 258.8,1433.0" fill="#f0f"/>
<polygon points="221.4,1412.0 258.4,1391.0 258.4,1433.0" fill="#f0f"/>
<polygon points="221.0,1412.0 258.0,1391.0 258.0,1433.0" fill="#f0f"/>
<polygon points="220.6,1412.0 257.6,1391.0 257.6,1433.0" fill="#f0f"/>
<polygon points="220.2,1412.0 257.2,1391.0 257.2,1433.0" fill="#f0f"/>
<polygon points="219.9,1412.0 256.9,1391.0 256.9,1433.0" fill="#f0f"/>
</g>
<line x1="1573.5" y1="177.3" x2="1724" y2="177.3" stroke="#000" stroke-width="6.5" stroke-linecap="round"/>
<rect x="1633.5" y="161.8" width="31" height="31" fill="#000"/>
<line x1="1573.5" y1="260.5" x2="1724" y2="260.5" stroke="#f00" stroke-width="6.5" stroke-linecap="round"/>
<circle cx="1649.0" cy="260.5" r="17.4" fill="#f00"/>
<line x1="1573.5" y1="342.7" x2="1724" y2="342.7" stroke="#00f" stroke-width="6.5" stroke-linecap="round"/>
<polygon points="1649.0,318.9 1670.3,355.9 1627.7,355.9" fill="#00f"/>
<line x1="1573.5" y1="425.4" x2="1724" y2="425.4" stroke="#008080" stroke-width="6.5" stroke-linecap="round"/>
<polygon points="1649.0,449.2 1670.3,412.2 1627.7,412.2" fill="#008080"/>
<line x1="1573.5" y1="507.5" x2="1724" y2="507.5" stroke="#f0f" stroke-width="6.5" stroke-linecap="round"/>
<polygon points="1625.2,507.5 1662.2,486.5 1662.2,528.5" fill="#f0f"/>
</g>
<text x="1740" y="199.7" font-family="'Liberation Serif', 'Times New Roman', serif" font-size="66" fill="#000">12.0k rpm</text>
<text x="1740" y="282.9" font-family="'Liberation Serif', 'Times New Roman', serif" font-size="66" fill="#000">10.5k rpm</text>
<text x="1770" y="365.1" font-family="'Liberation Serif', 'Times New Roman', serif" font-size="66" fill="#000">9.0k rpm</text>
<text x="1766" y="447.8" font-family="'Liberation Serif', 'Times New Roman', serif" font-size="66" fill="#000">7.5k rpm</text>
<text x="1767" y="529.9" font-family="'Liberation Serif', 'Times New Roman', serif" font-size="66" fill="#000">6.0k rpm</text>
<text x="240.5" y="1495" font-family="'Liberation Serif', 'Times New Roman', serif" font-size="70.5" font-weight="bold" text-anchor="middle" fill="#000">0</text>
<text x="506.6" y="1495" font-family="'Liberation Serif', 'Times New Roman', serif" font-size="70.5" font-weight="bold" text-anchor="middle" fill="#000">10</text>
<text x="772.8" y="1495" font-family="'Liberation Serif', 'Times New Roman', serif" font-size="70.5" font-weight="bold" text-anchor="middle" fill="#000">20</text>
<text x="1038.9" y="1495" font-family="'Liberation Serif', 'Times New Roman', serif" font-size="70.5" font-weight="bold" text-anchor="middle" fill="#000">30</text>
<text x="1305.1" y="1495" font-family="'Liberation Serif', 'Times New Roman', serif" font-size="70.5" font-weight="bold" text-anchor="middle" fill="#000">40</text>
<text x="1571.2" y="1495" font-family="'Liberation Serif', 'Times New Roman', serif" font-size="70.5" font-weight="bold" text-anchor="middle" fill="#000">50</text>
<text x="1837.3" y="1495" font-family="'Liberation Serif', 'Times New Roman', serif" font-size="70.5" font-weight="bold" text-anchor="middle" fill="#000">60</text>
<text x="2103.5" y="1495" font-family="'Liberation Serif', 'Times New Roman', serif" font-size="70.5" font-weight="bold" text-anchor="middle" fill="#000">70</text>
<text x="213" y="1432.0" font-family="'Liberation Serif', 'Times New Roman', serif" font-size="70.5" font-weight="bold" text-anchor="end" fill="#000">0</text>
<text x="213" y="1185.2" font-family="'Liberation Serif', 'Times New Roman', serif" font-size="70.5" font-weight="bold" text-anchor="end" fill="#000">2</text>
<text x="213" y="938.4" font-family="'Liberation Serif', 'Times New Roman', serif" font-size="70.5" font-weight="bold" text-anchor="end" fill="#000">4</text>
<text x="213" y="691.5" font-family="'Liberation Serif', 'Times New Roman', serif" font-size="70.5" font-weight="bold" text-anchor="end" fill="#000">6</text>
<text x="213" y="444.7" font-family="'Liberation Serif', 'Times New Roman', serif" font-size="70.5" font-weight="bold" text-anchor="end" fill="#000">8</text>
<text x="213" y="197.9" font-family="'Liberation Serif', 'Times New Roman', serif" font-size="70.5" font-weight="bold" text-anchor="end" fill="#000">10</text>
<text x="1172" y="1617" font-family="'Liberation Serif', 'Times New Roman', serif" font-size="79.3" text-anchor="middle" fill="#000" xml:space="preserve">Particle size  (μm)</text>
<text transform="translate(90.5,786.5) rotate(-90)" font-family="'Liberation Serif', 'Times New Roman', serif" font-size="82" text-anchor="middle" fill="#000" xml:space="preserve">Volume density ( %)</text>
</svg>
</body></html>
